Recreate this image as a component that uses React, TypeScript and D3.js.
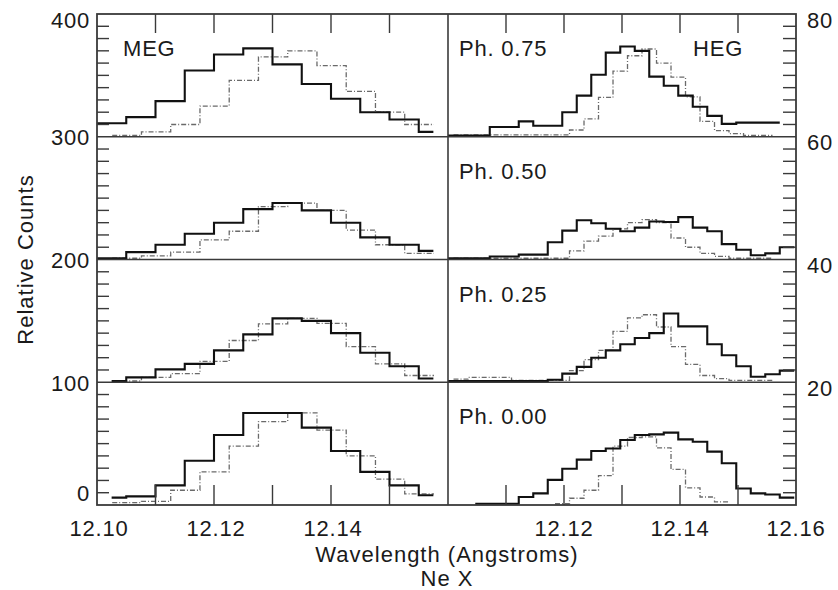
import React from "react";
import * as d3 from "d3";

// ---------- layout constants ----------
const W = 838;
const H = 590;
const PLOT_TOP = 14;
const ROW_H = 122.75;
const LEFT_RANGE: [number, number] = [97, 448];
const RIGHT_RANGE: [number, number] = [448, 796];
const X_DOMAIN: [number, number] = [12.1, 12.16];

// ---------- axes / labels data ----------
const X_MAJOR_TICKS = [12.11, 12.12, 12.13, 12.14, 12.15];
const LEFT_X_LABELS = [12.1, 12.12, 12.14];
const RIGHT_X_LABELS = [12.12, 12.14, 12.16];
const MEG_ROW_DOMAINS: [number, number][] = [[300, 400], [200, 300], [100, 200], [-10, 90]];
const HEG_ROW_DOMAINS: [number, number][] = [[60, 80], [40, 60], [20, 40], [-2, 18]];
const MEG_TICK_LABELS = [
  { v: 400, row: 0 }, { v: 300, row: 0 }, { v: 200, row: 1 }, { v: 100, row: 2 }, { v: 0, row: 3 },
];
const HEG_TICK_LABELS = [
  { v: 80, row: 0 }, { v: 60, row: 0 }, { v: 40, row: 1 }, { v: 20, row: 2 },
];
const PHASE_LABELS = ["Ph. 0.75", "Ph. 0.50", "Ph. 0.25", "Ph. 0.00"];

// ---------- histogram data (bin values) ----------
// MEG (bin width 0.005 A)
const MEG_SOLID_075 = [311, 316, 329, 354, 367, 372, 359, 343, 331, 320, 314, 304];
const MEG_SOLID_050 = [201, 206, 212, 221, 230, 241, 246, 240, 230, 218, 212, 207];
const MEG_SOLID_025 = [101, 104, 110.5, 115, 126, 139, 152, 150, 140, 124, 113, 103];
const MEG_SOLID_000 = [-4, -3, 6, 26, 47, 65, 65, 53, 34, 17, 6, -2];
const MEG_DOT_075 = [301, 304, 310, 325, 346, 365, 370, 358, 337, 320, 310];
const MEG_DOT_050 = [201, 203, 206, 216, 223, 243, 246, 240, 224, 212, 205];
const MEG_DOT_025 = [101, 104, 107, 117, 134, 147.5, 152, 148, 129, 115, 105.5];
const MEG_DOT_000 = [-8, -7, 2, 17, 38, 58, 65, 51, 30, 11, -1];

// HEG (bin width 0.0025 A)
const HEG_SOLID_075 = [60.2, 60.2, 60.2, 61.6, 61.6, 62.5, 61.8, 61.8, 64, 66.7, 70.1, 73.7, 74.7, 74, 69.8, 68.3, 66.7, 64.9, 63.4, 62.1, 62.3, 62.3, 62.3];
const HEG_SOLID_050 = [40.2, 40.2, 40.2, 40.5, 40.5, 40.8, 40.8, 42.8, 44.7, 46.4, 45.9, 45.0, 44.6, 45.2, 46.2, 46.1, 46.9, 45.2, 44.6, 42.5, 41.6, 40.7, 41.0, 42.0];
const HEG_SOLID_025 = [20.2, 20.2, 20.2, 20.2, 20.2, 20.2, 20.2, 20.4, 21.4, 22.5, 24, 25.2, 26.2, 27.2, 28, 31.2, 29.1, 29.1, 26.2, 24.4, 22.6, 20.9, 21.3, 21.9];
const HEG_SOLID_000 = [-1.8, -1.8, -1.8, -0.7, -0.1, 2.1, 3.9, 5.4, 6.8, 7.2, 8.6, 9.4, 9.5, 9.8, 8.7, 8.3, 6.7, 4.8, 0.7, -0.1, -0.3, -0.8];
const HEG_DOT_075 = [60.3, 60.3, 60.3, 60.3, 60.3, 60.3, 60.3, 60.3, 61.1, 62.9, 66.4, 70.7, 73.2, 74.3, 72, 69.7, 66.5, 62.5, 61, 60.5, 60.2, 60.2];
const HEG_DOT_050 = [40.2, 40.2, 40.2, 40.2, 40.2, 40.2, 40.2, 40.2, 41.4, 43, 43.8, 45, 46, 46.5, 46, 43.5, 42, 41, 40.5, 40.2, 40.2, 40.2];
const HEG_DOT_025 = [20.5, 20.8, 20.8, 20.8, 20.3, 20.3, 20.3, 20.3, 21.9, 23.7, 25.2, 28.3, 30.5, 31, 29, 25.8, 22.9, 21.1, 20.6, 20.3, 20.3, 20.3];
const HEG_DOT_000 = [-1.8, -0.9, 0.4, 2.8, 7.6, 9, 9.1, 7.3, 3.8, 0.8, -0.7, -1.5];

// series bin geometry: start edge, first interior edge, bin width, end edge
type Series = { values: number[]; start: number; first: number; w: number; end: number };
const megSolid = (values: number[], start = 12.1025): Series => ({ values, start, first: 12.105, w: 0.005, end: 12.1575 });
const megDot = (values: number[]): Series => ({ values, start: 12.1026, first: 12.1076, w: 0.005, end: 12.1576 });
const hegSolid = (values: number[], start = 12.0997): Series => ({
  values, start, first: start + 0.0025, w: 0.0025, end: start + values.length * 0.0025,
});
const hegDot = (values: number[], start = 12.10095): Series => ({
  values, start, first: start + 0.0025, w: 0.0025, end: start + values.length * 0.0025,
});

const MEG_SOLID = [megSolid(MEG_SOLID_075, 12.1), megSolid(MEG_SOLID_050, 12.1), megSolid(MEG_SOLID_025), megSolid(MEG_SOLID_000)];
const MEG_DOT = [megDot(MEG_DOT_075), megDot(MEG_DOT_050), megDot(MEG_DOT_025), megDot(MEG_DOT_000)];
const HEG_SOLID = [hegSolid(HEG_SOLID_075), hegSolid(HEG_SOLID_050), hegSolid(HEG_SOLID_025), hegSolid(HEG_SOLID_000, 12.1047)];
const HEG_DOT = [hegDot(HEG_DOT_075), hegDot(HEG_DOT_050), hegDot(HEG_DOT_025), hegDot(HEG_DOT_000, 12.11845)];

// ---------- helpers ----------
const FONT = "'Liberation Sans', Arial, Helvetica, sans-serif";
const TEXT = "#1a1a1a";
const FRAME = "#3a3a3a";

const rowTop = (r: number) => PLOT_TOP + r * ROW_H;
const rowScale = (dom: [number, number], r: number) =>
  d3.scaleLinear().domain(dom).range([rowTop(r) + ROW_H, rowTop(r)]);

const xLeft = d3.scaleLinear().domain(X_DOMAIN).range(LEFT_RANGE);
const xRight = d3.scaleLinear().domain(X_DOMAIN).range(RIGHT_RANGE);

function stepPath(s: Series, x: d3.ScaleLinear<number, number>, y: d3.ScaleLinear<number, number>) {
  const n = s.values.length;
  const pts: [number, number][] = [];
  for (let i = 0; i < n; i++) {
    const e = i === 0 ? s.start : Math.min(s.first + (i - 1) * s.w, s.end);
    pts.push([e, s.values[i]]);
  }
  pts.push([s.end, s.values[n - 1]]);
  const line = d3
    .line<[number, number]>()
    .x((d) => x(d[0]))
    .y((d) => y(d[1]))
    .curve(d3.curveStepAfter);
  return line(pts) || "";
}

export default function App() {
  const bottom = rowTop(4);
  const rows = [0, 1, 2, 3];

  const panels = [
    { key: "meg", x: xLeft, doms: MEG_ROW_DOMAINS, solid: MEG_SOLID, dot: MEG_DOT, range: LEFT_RANGE },
    { key: "heg", x: xRight, doms: HEG_ROW_DOMAINS, solid: HEG_SOLID, dot: HEG_DOT, range: RIGHT_RANGE },
  ];

  return (
    <svg
      width={W}
      height={H}
      viewBox={`0 0 ${W} ${H}`}
      style={{ position: "absolute", left: 0, top: 0, background: "#fff" }}
      fontFamily={FONT}
    >
      <rect x={0} y={0} width={W} height={H} fill="#fff" />
      <defs>
        {panels.map((p) =>
          rows.map((r) => (
            <clipPath id={`clip-${p.key}-${r}`} key={`${p.key}-${r}`}>
              <rect x={p.range[0]} y={rowTop(r) - 1} width={p.range[1] - p.range[0]} height={ROW_H + 2} />
            </clipPath>
          ))
        )}
      </defs>

      {/* histograms */}
      {panels.map((p) =>
        rows.map((r) => {
          const y = rowScale(p.doms[r], r);
          return (
            <g key={`h-${p.key}-${r}`} clipPath={`url(#clip-${p.key}-${r})`}>
              <path d={stepPath(p.dot[r], p.x, y)} fill="none" stroke="#6a6a6a" strokeWidth={1.3} strokeDasharray="5 2 1 2" />
              <path d={stepPath(p.solid[r], p.x, y)} fill="none" stroke="#111" strokeWidth={2.1} />
            </g>
          );
        })
      )}

      {/* frame */}
      <rect x={LEFT_RANGE[0]} y={PLOT_TOP} width={RIGHT_RANGE[1] - LEFT_RANGE[0]} height={bottom - PLOT_TOP} fill="none" stroke={FRAME} strokeWidth={1.8} />
      {[1, 2, 3].map((r) => (
        <line key={`sep-${r}`} x1={LEFT_RANGE[0]} x2={RIGHT_RANGE[1]} y1={rowTop(r)} y2={rowTop(r)} stroke={FRAME} strokeWidth={1.6} />
      ))}
      <line x1={LEFT_RANGE[1]} x2={LEFT_RANGE[1]} y1={PLOT_TOP} y2={bottom} stroke={FRAME} strokeWidth={1.6} />

      {/* y minor ticks */}
      {rows.map((r) => {
        const yl = rowScale(MEG_ROW_DOMAINS[r], r);
        const yr = rowScale(HEG_ROW_DOMAINS[r], r);
        const tl = yl.ticks(10).filter((t) => t !== MEG_ROW_DOMAINS[r][0] && t !== MEG_ROW_DOMAINS[r][1]);
        const tr = yr.ticks(10).filter((t) => t !== HEG_ROW_DOMAINS[r][0] && t !== HEG_ROW_DOMAINS[r][1]);
        return (
          <g key={`yt-${r}`} stroke={FRAME} strokeWidth={1.4}>
            {tl.map((t) => (
              <line key={`l${t}`} x1={LEFT_RANGE[0]} x2={LEFT_RANGE[0] + 12} y1={yl(t)} y2={yl(t)} />
            ))}
            {tr.map((t) => (
              <line key={`r${t}`} x1={RIGHT_RANGE[1] - 13} x2={RIGHT_RANGE[1]} y1={yr(t)} y2={yr(t)} />
            ))}
          </g>
        );
      })}

      {/* x major ticks top and bottom */}
      {panels.map((p) => (
        <g key={`xt-${p.key}`} stroke={FRAME} strokeWidth={1.4}>
          {X_MAJOR_TICKS.map((t) => (
            <g key={t}>
              <line x1={p.x(t)} x2={p.x(t)} y1={PLOT_TOP} y2={PLOT_TOP + 19} />
              <line x1={p.x(t)} x2={p.x(t)} y1={bottom - 20} y2={bottom} />
            </g>
          ))}
        </g>
      ))}

      {/* y tick labels */}
      <g fontSize={22} fill={TEXT} letterSpacing={0.8}>
        {MEG_TICK_LABELS.map((d) => {
          const y = rowScale(MEG_ROW_DOMAINS[d.row], d.row)(d.v);
          return (
            <text key={`ml${d.v}`} x={90} y={Math.max(y + 1, 20)} textAnchor="end" dominantBaseline="central">
              {d.v}
            </text>
          );
        })}
        {HEG_TICK_LABELS.map((d) => {
          const y = rowScale(HEG_ROW_DOMAINS[d.row], d.row)(d.v);
          return (
            <text key={`hl${d.v}`} x={807} y={y + 6} textAnchor="start" dominantBaseline="central">
              {d.v}
            </text>
          );
        })}
      </g>

      {/* x tick labels */}
      <g fontSize={22} fill={TEXT} letterSpacing={0.8} textAnchor="middle">
        {LEFT_X_LABELS.map((v) => (
          <text key={`lx${v}`} x={xLeft(v) + 2} y={536}>
            {v.toFixed(2)}
          </text>
        ))}
        {RIGHT_X_LABELS.map((v) => (
          <text key={`rx${v}`} x={xRight(v)} y={536}>
            {v.toFixed(2)}
          </text>
        ))}
      </g>

      {/* panel labels */}
      <g fontSize={22} fill={TEXT} letterSpacing={0.8}>
        <text x={123} y={rowTop(0) + 42}>MEG</text>
        <text x={693} y={rowTop(0) + 42}>HEG</text>
        {PHASE_LABELS.map((lab, r) => (
          <text key={lab} x={459} y={rowTop(r) + 42}>
            {lab}
          </text>
        ))}
      </g>

      {/* axis titles */}
      <g fontSize={22} fill={TEXT} letterSpacing={1}>
        <text x={447} y={562} textAnchor="middle">Wavelength (Angstroms)</text>
        <text x={447} y={586} textAnchor="middle">Ne X</text>
        <text transform={`translate(33, ${(PLOT_TOP + bottom) / 2}) rotate(-90)`} textAnchor="middle">
          Relative Counts
        </text>
      </g>
    </svg>
  );
}
